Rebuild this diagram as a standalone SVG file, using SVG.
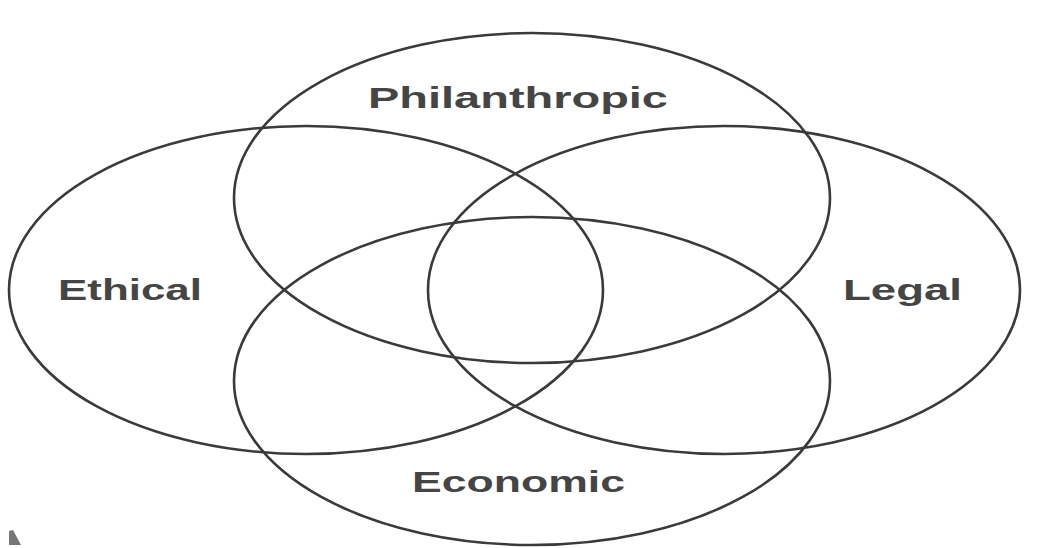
<svg xmlns="http://www.w3.org/2000/svg" width="1058" height="548" viewBox="0 0 1058 548">
<style>
.ring{fill:none;stroke:#3a3a3a;stroke-width:2.6}
.lbl{font-family:"Liberation Sans",Arial,sans-serif;font-weight:bold;font-size:30px;fill:#454545}
</style>
<rect width="1058" height="548" fill="#ffffff"/>
<g id="connectors"></g>
<g id="philanthropic">
<ellipse class="ring" cx="532" cy="198" rx="298" ry="165"/>
<text class="lbl" x="368" y="108" textLength="300" lengthAdjust="spacingAndGlyphs">Philanthropic</text>
</g>
<g id="ethical">
<ellipse class="ring" cx="306" cy="290" rx="297" ry="164"/>
<text class="lbl" x="58" y="300" textLength="144" lengthAdjust="spacingAndGlyphs">Ethical</text>
</g>
<g id="legal">
<ellipse class="ring" cx="724" cy="290" rx="296" ry="164"/>
<text class="lbl" x="843" y="300" textLength="119" lengthAdjust="spacingAndGlyphs">Legal</text>
</g>
<g id="economic">
<ellipse class="ring" cx="532" cy="381" rx="298" ry="164"/>
<text class="lbl" x="412" y="492" textLength="213" lengthAdjust="spacingAndGlyphs">Economic</text>
</g>
<polygon points="9,531 13,530 21,545 9,545" fill="#555555" opacity="0.8"/>
</svg>
